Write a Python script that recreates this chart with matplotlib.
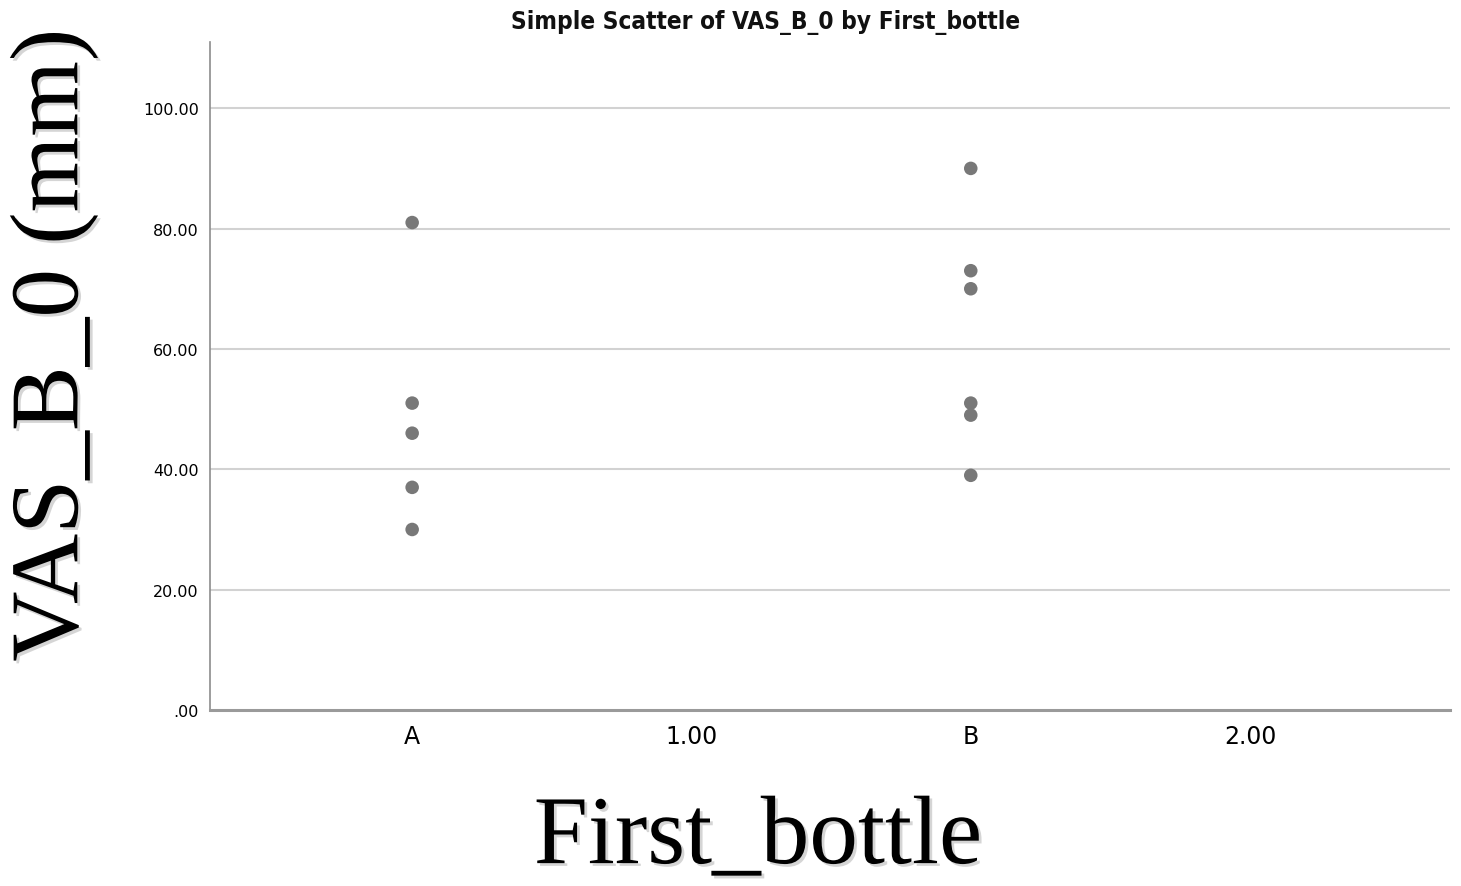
import matplotlib.pyplot as plt
import matplotlib.patheffects as pe

# values per case
first_bottle = ['A', 'A', 'A', 'A', 'A', 'B', 'B', 'B', 'B', 'B', 'B']
vas_b_0 = [81, 51, 46, 37, 30, 90, 73, 70, 51, 49, 39]

# axis positions of the x categories / tick labels
cat_pos = {'A': 0.5, 'B': 1.5}
xtick_pos = [0.5, 1.0, 1.5, 2.0]
xtick_lab = ['A', '1.00', 'B', '2.00']
ytick_pos = [0, 20, 40, 60, 80, 100]
ytick_lab = ['.00', '20.00', '40.00', '60.00', '80.00', '100.00']

fig = plt.figure(figsize=(14.61, 8.87), dpi=100)
ax = fig.add_axes([0.1437, 0.1984, 0.9925 - 0.1437, 0.9515 - 0.1984])

xs = [cat_pos[c] for c in first_bottle]
ax.scatter(xs, vas_b_0, s=95, color='#787878', edgecolors='none', zorder=3)

ax.set_xlim(0.138, 2.358)
ax.set_ylim(0, 111)
ax.set_xticks(xtick_pos)
ax.set_xticklabels(xtick_lab, fontsize=17)
ax.set_yticks(ytick_pos)
ax.set_yticklabels(ytick_lab, fontsize=11.5)
ax.tick_params(length=0, pad=8)
ax.tick_params(axis='x', pad=10)

for y in ytick_pos[1:]:
    ax.axhline(y, color='#d2d2d2', lw=1.5, zorder=1)

for s in ['top', 'right']:
    ax.spines[s].set_visible(False)
ax.spines['left'].set_color('#8c8c8c')
ax.spines['left'].set_linewidth(1.2)
ax.spines['bottom'].set_color('#9a9a9a')
ax.spines['bottom'].set_linewidth(2.2)

fig.text(0.524, 0.975, 'Simple Scatter of VAS_B_0 by First_bottle',
         ha='center', va='center', fontsize=17.5, fontweight='bold',
         family='DejaVu Sans', fontstretch='condensed', color='#111111')

shadow = [pe.withSimplePatchShadow(offset=(2, -2), shadow_rgbFace='#777777', alpha=0.3)]
fig.text(0.519, 0.052, 'First_bottle', ha='center', va='center',
         fontsize=70, family='Liberation Serif', path_effects=shadow)
fig.text(0.037, 0.61, 'VAS_B_0 (mm)', ha='center', va='center', rotation=90,
         fontsize=70, family='Liberation Serif', path_effects=shadow)

fig.savefig('out.png', dpi=100, facecolor='white')
